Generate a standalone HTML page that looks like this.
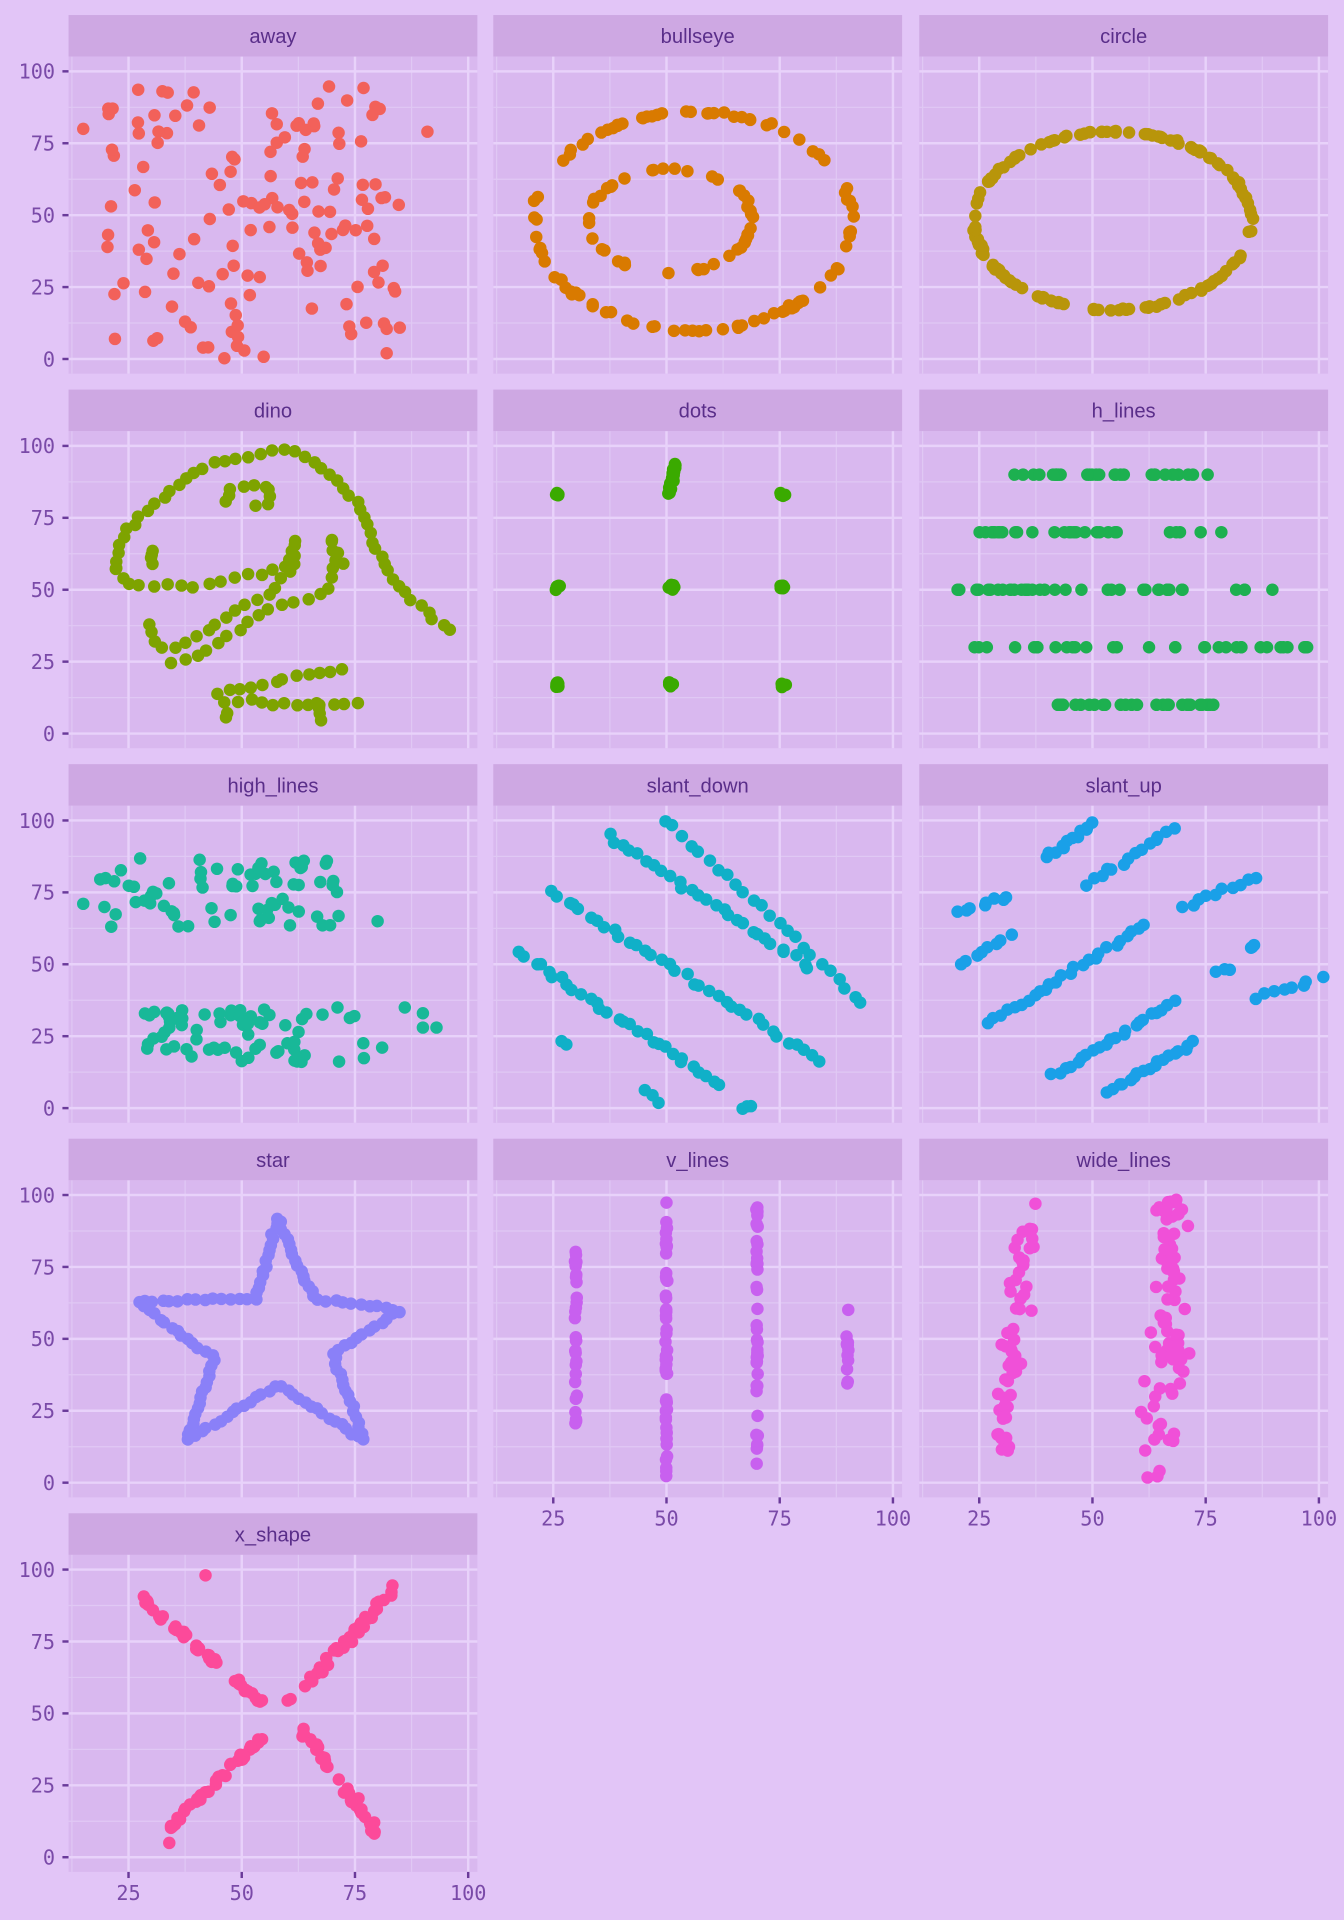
<!DOCTYPE html>
<html><head><meta charset="utf-8"><style>
html,body{margin:0;padding:0;background:#e2c5f7;}
svg{display:block;}
</style></head><body>
<svg id="s" xmlns="http://www.w3.org/2000/svg" width="1344" height="1920" viewBox="0 0 1098 1568"></svg>
<script>
const S=document.getElementById('s');
let seed=12347;function rnd(){seed=(seed*1103515245+12345)%2147483648;return seed/2147483648;}
function g(){return (rnd()+rnd()+rnd()-1.5)/1.5;}
const cols=[56,403,751],rowsTop=[12,318,624,930,1236];
let out='<rect width="1098" height="1568" fill="#e2c5f7"/>';
const TF='DejaVu Sans Mono,Liberation Mono,monospace';
function panel(c,r,name,color,pts,xlab,ylab){
 const L=cols[c],T=rowsTop[r],PT=T+34,W=334,H=259;
 out+=`<rect x="${L}" y="${T}" width="${W}" height="34" fill="#cea8e3"/>`;
 out+=`<text x="${L+W/2}" y="${T+23}" text-anchor="middle" font-family="Liberation Sans,sans-serif" font-size="16.5" fill="#5a2e8a">${name}</text>`;
 out+=`<rect x="${L}" y="${PT}" width="${W}" height="${H}" fill="#d9b8ef"/>`;
 const X=x=>L-43.5+3.7*x, Y=y=>PT+247-2.35*y;
 for(let v=12.5;v<=100;v+=25){out+=`<line x1="${X(v)}" x2="${X(v)}" y1="${PT}" y2="${PT+H}" stroke="#e0c8f4" stroke-width="1"/>`;}
 for(let v=12.5;v<=100;v+=25){out+=`<line y1="${Y(v)}" y2="${Y(v)}" x1="${L}" x2="${L+W}" stroke="#e0c8f4" stroke-width="1"/>`;}
 for(let v=25;v<=100;v+=25){out+=`<line x1="${X(v)}" x2="${X(v)}" y1="${PT}" y2="${PT+H}" stroke="#e8d2fa" stroke-width="2"/>`;}
 for(let v=0;v<=100;v+=25){out+=`<line y1="${Y(v)}" y2="${Y(v)}" x1="${L}" x2="${L+W}" stroke="#e8d2fa" stroke-width="2"/>`;}
 if(ylab)for(let v=0;v<=100;v+=25){out+=`<line x1="${L-5}" x2="${L}" y1="${Y(v)}" y2="${Y(v)}" stroke="#6a3a9a" stroke-width="2"/><text x="${L-11}" y="${Y(v)+6}" text-anchor="end" font-family="${TF}" font-size="16.5" fill="#7a4aa8">${v}</text>`;}
 if(xlab)for(let v=25;v<=100;v+=25){out+=`<line y1="${PT+H}" y2="${PT+H+5}" x1="${X(v)}" x2="${X(v)}" stroke="#6a3a9a" stroke-width="2"/><text x="${X(v)}" y="${PT+H+23}" text-anchor="middle" font-family="${TF}" font-size="16.5" fill="#7a4aa8">${v}</text>`;}
 for(const p of pts){out+=`<circle cx="${X(p[0]).toFixed(1)}" cy="${Y(p[1]).toFixed(1)}" r="5.1" fill="${color}"/>`;}
}
function ell(cx,cy,rx,ry,n,j){const a=[];for(let i=0;i<n;i++){const t=rnd()*6.283;a.push([cx+rx*Math.cos(t)+g()*j,cy+ry*Math.sin(t)+g()*j]);}return a;}
function seg(x1,y1,x2,y2,n,j){const a=[];for(let i=0;i<n;i++){const t=rnd();a.push([x1+(x2-x1)*t+g()*j,y1+(y2-y1)*t+g()*j]);}return a;}
function poly(P,n,j){const a=[];let len=[],tot=0;for(let i=1;i<P.length;i++){const d=Math.hypot(P[i][0]-P[i-1][0],P[i][1]-P[i-1][1]);len.push(d);tot+=d;}
 for(let k=0;k<n;k++){let s=tot*k/n,i=0;while(s>len[i]&&i<len.length-1){s-=len[i];i++;}const t=s/len[i];a.push([P[i][0]+(P[i+1][0]-P[i][0])*t+g()*j,P[i][1]+(P[i+1][1]-P[i][1])*t+g()*j]);}return a;}
function pxPoly(P,c,r,n,j){const L=cols[c],PT=rowsTop[r]+34;return poly(P.map(p=>[(p[0]-L+43.5)/3.7,(PT+247-p[1])/2.35]),n,j);}
let away=[];for(let i=0;i<142;i++)away.push([20+rnd()*65,rnd()*97]);away.push([15,80],[91,79],[22,7],[82,2]);
panel(0,0,'away','#f2615a',away,false,true);
panel(1,0,'bullseye','#d97a00',ell(56,48,35,38,95,1).concat(ell(51,48,18,18,45,1)),false,false);
panel(2,0,'circle','#b8950a',ell(54.5,48,30.5,31,140,0.6),false,false);
let dino=[];
dino=dino.concat(pxPoly([[95,465],[97,445],[105,430],[120,418],[135,405],[150,392],[165,382],[180,376],[200,373],[226,366],[240,368],[255,376],[268,386],[280,397],[290,410],[298,425],[307,445],[316,462],[326,478],[338,492],[352,502],[366,512],[375,520]],0,1,50,1));
dino=dino.concat(pxPoly([[95,465],[103,478],[120,478],[140,478],[160,478],[180,474],[200,470],[218,468],[232,464],[240,445],[242,435]],0,1,18,1));
dino=dino.concat(pxPoly([[185,410],[190,398],[205,396],[222,398],[218,412],[200,412]],0,1,10,1));
dino=dino.concat(pxPoly([[122,510],[125,525],[135,530],[150,527],[160,520],[175,510],[190,500],[205,492],[218,486],[230,475],[240,460],[242,438]],0,1,20,1));
dino=dino.concat(pxPoly([[140,540],[155,538],[170,530],[185,520],[200,510],[215,500],[230,494],[245,490],[260,488],[268,478],[272,458],[270,435]],0,1,20,1));
dino=dino.concat(pxPoly([[125,460],[122,452],[128,448]],0,1,4,1));
dino=dino.concat(pxPoly([[178,566],[200,562],[220,558],[240,552],[260,550],[280,546],[290,546]],0,1,12,1));
dino=dino.concat(pxPoly([[185,587],[185,575],[200,572],[220,575],[245,575],[270,575],[300,575]],0,1,14,1));
dino=dino.concat(pxPoly([[258,575],[262,585],[265,592]],0,1,4,1));
dino=dino.concat(pxPoly([[272,442],[278,458],[283,470]],0,1,3,1));
panel(0,1,'dino','#7ea300',dino,false,true);
let dots=[];[[26,83],[26,51],[26,17],[51,51],[51,17],[75.5,83],[75.5,51],[75.5,17]].forEach(c=>{for(let i=0;i<8;i++)dots.push([c[0]+g()*1,c[1]+g()*1.2]);});
for(let i=0;i<25;i++){const t=rnd();dots.push([50.5+t*1.5+g()*0.5,83+t*11]);}
panel(1,1,'dots','#3aaa00',dots,false,false);
let hl=[];[[90,32,78,28],[70,22,80,28],[50,20,90,38],[30,22,98,32],[10,42,77,28]].forEach(l=>{for(let i=0;i<l[3];i++)hl.push([l[1]+rnd()*(l[2]-l[1]),l[0]]);});
panel(2,1,'h_lines','#1db050',hl,false,false);
let hi=[];for(let i=0;i<70;i++)hi.push([18+rnd()*55,63+rnd()*24]);hi.push([15,71],[80,65]);
for(let i=0;i<70;i++)hi.push([27+rnd()*50,16+rnd()*19]);hi.push([86,35],[90,33],[90,28],[93,28],[81,21]);
panel(0,2,'high_lines','#18b898',hi,false,true);
let sd=[];
sd=sd.concat(pxPoly([[425,778],[595,890]],1,2,30,1.5));
sd=sd.concat(pxPoly([[450,728],[675,870]],1,2,35,1.5));
sd=sd.concat(pxPoly([[498,683],[668,795]],1,2,28,1.5));
sd=sd.concat(pxPoly([[545,670],[712,826]],1,2,24,1.5));
sd=sd.concat(pxPoly([[458,850],[466,856]],1,2,2,0.5));
sd=sd.concat(pxPoly([[527,890],[545,905]],1,2,3,0.5));
sd=sd.concat(pxPoly([[606,905],[618,902]],1,2,3,0.5));
panel(1,2,'slant_down','#10b0c8',sd,false,false);
let su=[];
su=su.concat(pxPoly([[783,745],[830,730]],2,2,8,2));
su=su.concat(pxPoly([[855,700],[898,670]],2,2,12,1.2));
su=su.concat(pxPoly([[888,722],[965,672]],2,2,14,1.2));
su=su.concat(pxPoly([[785,788],[830,760]],2,2,8,1.2));
su=su.concat(pxPoly([[808,836],[940,752]],2,2,26,1.2));
su=su.concat(pxPoly([[965,740],[1035,715]],2,2,10,1.2));
su=su.concat(pxPoly([[860,878],[965,815]],2,2,22,1.2));
su=su.concat(pxPoly([[905,892],[980,848]],2,2,18,1.2));
su=su.concat(pxPoly([[995,793],[1010,790]],2,2,3,1));
su=su.concat(pxPoly([[1020,775],[1030,773]],2,2,3,1));
su=su.concat(pxPoly([[1025,815],[1085,797]],2,2,8,1.2));
panel(2,2,'slant_up','#1aa0e8',su,false,false);
let st=poly([[58,92],[53,64],[27,63],[44,43],[38,15],[58,34],[77,15],[70,45],[85,60],[66,64],[58,92]],140,0.7);
panel(0,3,'star','#8a80f8',st,false,true);
let vl=[];[[30,20,83,30],[50,2,100,50],[70,2,97,40],[90,32,62,12]].forEach(l=>{for(let i=0;i<l[3];i++)vl.push([l[0]+g()*0.3,l[1]+rnd()*(l[2]-l[1])]);});
panel(1,3,'v_lines','#c860ef',vl,true,false);
let wl=[];for(let i=0;i<60;i++){const y=10+rnd()*87;wl.push([29+(y/97)*7+g()*4,y]);}
for(let i=0;i<85;i++){const y=rnd()*99;wl.push([64+g()*6+(y>30?3:0),y]);}
panel(2,3,'wide_lines','#f050d8',wl,true,false);
let xs=seg(28,90,54,54,45,1.5).concat(seg(63,45,80,8,40,1.5)).concat(seg(34,10,54,41,45,1.5)).concat(seg(60,53,85,95,40,1.5));
xs.push([42,98],[34,5]);
panel(0,4,'x_shape','#fc4a9a',xs,true,true);
S.innerHTML=out;
</script>
</body></html>
